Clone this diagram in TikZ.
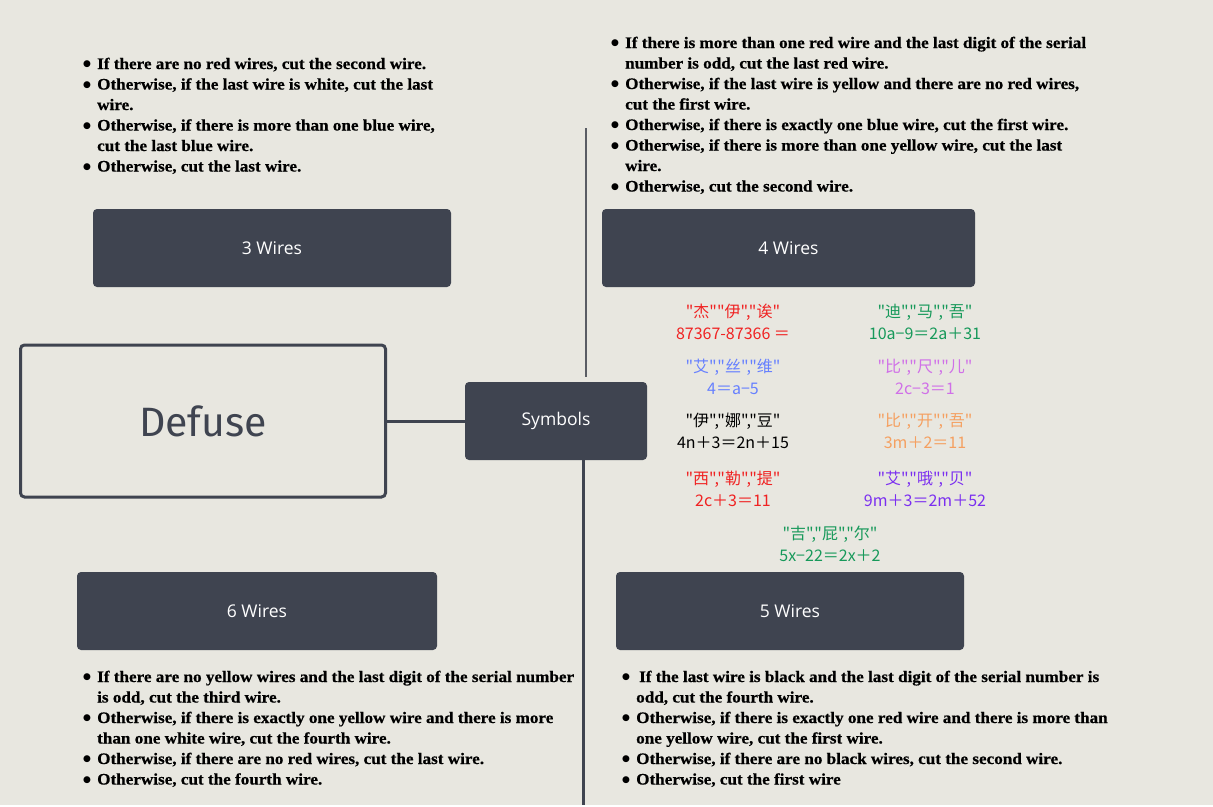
\documentclass[tikz,border=0pt]{standalone}
\usepackage{fontspec}
\setmainfont{Liberation Serif}
\newfontfamily\listfont{Liberation Serif}[FakeStretch=1.07, BoldFeatures={FakeBold=0.6}]
\newfontfamily\boxfont{Open Sans}
\newfontfamily\deffont{Fira Sans}
\newfontfamily\dejavu{DejaVu Sans}
\newfontfamily\cjk{Noto Sans CJK SC}
\usepackage{array}
\definecolor{bg}{HTML}{E8E7E0}
\definecolor{dark}{HTML}{3F4450}
\definecolor{lgray}{HTML}{5A5D64}
\definecolor{cred}{HTML}{F02222}
\definecolor{cgreen}{HTML}{17995A}
\definecolor{cblue}{HTML}{6680FF}
\definecolor{cviolet}{HTML}{D070E8}
\definecolor{corange}{HTML}{F5A060}
\definecolor{cpurple}{HTML}{7B2FF0}
\newcommand{\bitem}{\raisebox{2.3pt}{\dejavu\fontsize{9}{9}\selectfont ●} &}
\newenvironment{blist}{\listfont\fontsize{16}{20.5}\selectfont\bfseries\begin{tabular}[t]{@{}p{6pt}@{\hspace{8pt}}l@{}}}{\end{tabular}}
\tikzset{
  darkbox/.style={rectangle, rounded corners=4pt, fill=dark, text=white, font=\boxfont\fontsize{17.5}{20}\selectfont, inner sep=0pt},
  listnode/.style={anchor=base west, inner sep=0pt, text=black},
  sym/.style={font=\cjk\fontsize{16}{22}\selectfont, align=center, inner sep=0pt},
}
\begin{document}
\begin{tikzpicture}[x=1pt,y=-1pt]
\path[fill=bg] (0,0) rectangle (1213,805);
% main nodes
\node[rectangle, rounded corners=4pt, draw=dark, line width=3pt, fill=bg, minimum width=365pt, minimum height=152pt, text=dark, font=\deffont\fontsize{41}{48}\selectfont] (defuse) at (203,421) {Defuse};
\node[darkbox, minimum width=182pt, minimum height=78pt] (symbols) at (556,421) {Symbols};
\node[darkbox, minimum width=358pt, minimum height=78pt] (w3) at (272,248) {3 Wires};
\node[darkbox, minimum width=373pt, minimum height=78pt] (w4) at (788.5,248) {4 Wires};
\node[darkbox, minimum width=360pt, minimum height=78pt] (w6) at (257,611) {6 Wires};
\node[darkbox, minimum width=348pt, minimum height=78pt] (w5) at (790,611) {5 Wires};
% connectors
\draw[dark, line width=3pt] (defuse.east) -- (symbols.west);
\coordinate (t1) at (586,128);
\coordinate (t2) at (586,377);
\draw[lgray, line width=1.5pt] (t1) -- (t2);
\coordinate (b1) at (583,805);
\draw[dark, line width=3pt] (symbols.south -| b1) -- (b1);
% lists
\node[listnode] (l3) at (83,69) {\begin{blist}
\bitem If there are no red wires, cut the second wire.\\
\bitem Otherwise, if the last wire is white, cut the last\\
& wire.\\
\bitem Otherwise, if there is more than one blue wire,\\
& cut the last blue wire.\\
\bitem Otherwise, cut the last wire.
\end{blist}};
\node[listnode] (l4) at (611,48) {\begin{blist}
\bitem If there is more than one red wire and the last digit of the serial\\
& number is odd, cut the last red wire.\\
\bitem Otherwise, if the last wire is yellow and there are no red wires,\\
& cut the first wire.\\
\bitem Otherwise, if there is exactly one blue wire, cut the first wire.\\
\bitem Otherwise, if there is more than one yellow wire, cut the last\\
& wire.\\
\bitem Otherwise, cut the second wire.
\end{blist}};
\node[listnode] (l6) at (83,682) {\begin{blist}
\bitem If there are no yellow wires and the last digit of the serial number\\
& is odd, cut the third wire.\\
\bitem Otherwise, if there is exactly one yellow wire and there is more\\
& than one white wire, cut the fourth wire.\\
\bitem Otherwise, if there are no red wires, cut the last wire.\\
\bitem Otherwise, cut the fourth wire.
\end{blist}};
\node[listnode] (l5) at (622,682) {\begin{blist}
\bitem \hspace{3pt}If the last wire is black and the last digit of the serial number is\\
& odd, cut the fourth wire.\\
\bitem Otherwise, if there is exactly one red wire and there is more than\\
& one yellow wire, cut the first wire.\\
\bitem Otherwise, if there are no black wires, cut the second wire.\\
\bitem Otherwise, cut the first wire
\end{blist}};
% symbols
\node[sym, text=cred] (s1) at (733,322) {"杰""伊","诶"\\87367-87366 ＝};
\node[sym, text=cgreen] (s2) at (925,322) {"迪","马","吾"\\10a−9＝2a＋31};
\node[sym, text=cblue] (s3) at (733,377) {"艾","丝","维"\\4＝a−5};
\node[sym, text=cviolet] (s4) at (925,377) {"比","尺","儿"\\2c−3＝1};
\node[sym, text=black] (s5) at (733,431) {"伊","娜","豆"\\4n＋3＝2n＋15};
\node[sym, text=corange] (s6) at (925,431) {"比","开","吾"\\3m＋2＝11};
\node[sym, text=cred] (s7) at (733,489) {"西","勒","提"\\2c＋3＝11};
\node[sym, text=cpurple] (s8) at (925,489) {"艾","哦","贝"\\9m＋3＝2m＋52};
\node[sym, text=cgreen] (s9) at (830,544) {"吉","屁","尔"\\5x−22＝2x＋2};
\end{tikzpicture}
\end{document}
